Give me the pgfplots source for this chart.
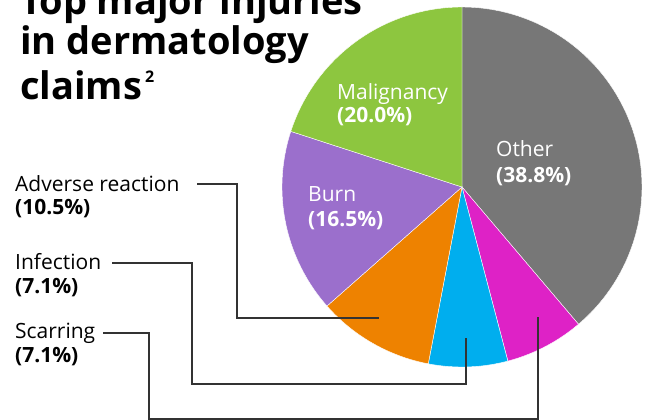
\documentclass[border=0pt]{standalone}
\usepackage{fontspec}
\setmainfont{Open Sans}
\usepackage{pgfplots}
\pgfplotsset{compat=1.18}
\definecolor{cOther}{HTML}{777777}
\definecolor{cScar}{HTML}{DE22C6}
\definecolor{cInf}{HTML}{00AEEE}
\definecolor{cAdv}{HTML}{EE8200}
\definecolor{cBurn}{HTML}{9B6FCC}
\definecolor{cMal}{HTML}{8DC63F}
\definecolor{cLine}{HTML}{333333}
% shares in percent
\def\pOther{38.8}
\def\pScar{7.1}
\def\pInf{7.1}
\def\pAdv{10.5}
\def\pBurn{16.5}
\def\pMal{20.0}
\pgfmathsetmacro{\aA}{90}
\pgfmathsetmacro{\aB}{\aA-3.6*\pOther}
\pgfmathsetmacro{\aC}{\aB-3.6*\pScar}
\pgfmathsetmacro{\aD}{\aC-3.6*\pInf}
\pgfmathsetmacro{\aE}{\aD-3.6*\pAdv}
\pgfmathsetmacro{\aF}{\aE-3.6*\pBurn}
\pgfmathsetmacro{\aG}{\aF-3.6*\pMal}
\begin{document}
\begin{tikzpicture}[x=1pt,y=1pt]
\clip (0,0) rectangle (646,420);
\begin{axis}[at={(0,0)}, anchor=south west, width=646pt, height=420pt, scale only axis,
  xmin=0, xmax=646, ymin=0, ymax=420, hide axis, clip=false]
\pgfplotsset{slice/.style={draw=white, line width=0.4pt, samples=80, variable=\t}}
\addplot[slice, fill=cOther, domain=\aB:\aA] ({462+180*cos(\t)},{233+180*sin(\t)}) -- (axis cs:462,233) -- cycle;
\addplot[slice, fill=cScar, domain=\aC:\aB] ({462+180*cos(\t)},{233+180*sin(\t)}) -- (axis cs:462,233) -- cycle;
\addplot[slice, fill=cInf, domain=\aD:\aC] ({462+180*cos(\t)},{233+180*sin(\t)}) -- (axis cs:462,233) -- cycle;
\addplot[slice, fill=cAdv, domain=\aE:\aD] ({462+180*cos(\t)},{233+180*sin(\t)}) -- (axis cs:462,233) -- cycle;
\addplot[slice, fill=cBurn, domain=\aF:\aE] ({462+180*cos(\t)},{233+180*sin(\t)}) -- (axis cs:462,233) -- cycle;
\addplot[slice, fill=cMal, domain=\aG:\aF] ({462+180*cos(\t)},{233+180*sin(\t)}) -- (axis cs:462,233) -- cycle;
% leader lines
\draw[cLine, line width=2.2pt] (axis cs:197,236) -| (axis cs:237,102) -- (axis cs:379,102);
\draw[cLine, line width=2.2pt] (axis cs:112,157) -| (axis cs:192,36) -| (axis cs:466,82);
\draw[cLine, line width=2.2pt] (axis cs:103,87) -| (axis cs:149,1.2) -| (axis cs:538,103);
% inside labels
\tikzset{lab/.style={anchor=base west, inner sep=0pt, font=\fontsize{21}{24}\selectfont}}
\node[lab, text=white] at (axis cs:337,320) {Malignancy};
\node[lab, text=white] at (axis cs:337,297) {\bfseries(20.0\%)};
\node[lab, text=white] at (axis cs:496,263) {Other};
\node[lab, text=white] at (axis cs:496,237) {\bfseries(38.8\%)};
\node[lab, text=white] at (axis cs:308,218) {Burn};
\node[lab, text=white] at (axis cs:308,193) {\bfseries(16.5\%)};
% outside labels
\node[lab] at (axis cs:15,228) {Adverse reaction};
\node[lab] at (axis cs:15,205) {\bfseries(10.5\%)};
\node[lab] at (axis cs:15,150) {Infection};
\node[lab] at (axis cs:15,126) {\bfseries(7.1\%)};
\node[lab] at (axis cs:15,81) {Scarring};
\node[lab] at (axis cs:15,57) {\bfseries(7.1\%)};
% title
\tikzset{ttl/.style={anchor=base west, inner sep=0pt, font=\bfseries\fontsize{38}{45}\selectfont}}
\node[ttl] at (axis cs:20,405) {Top major injuries};
\node[ttl] at (axis cs:20,365) {in dermatology};
\node[ttl] at (axis cs:20,320) {claims\hspace{3pt}\raisebox{17pt}{\fontsize{16}{16}\selectfont 2}};
\end{axis}
\end{tikzpicture}
\end{document}
